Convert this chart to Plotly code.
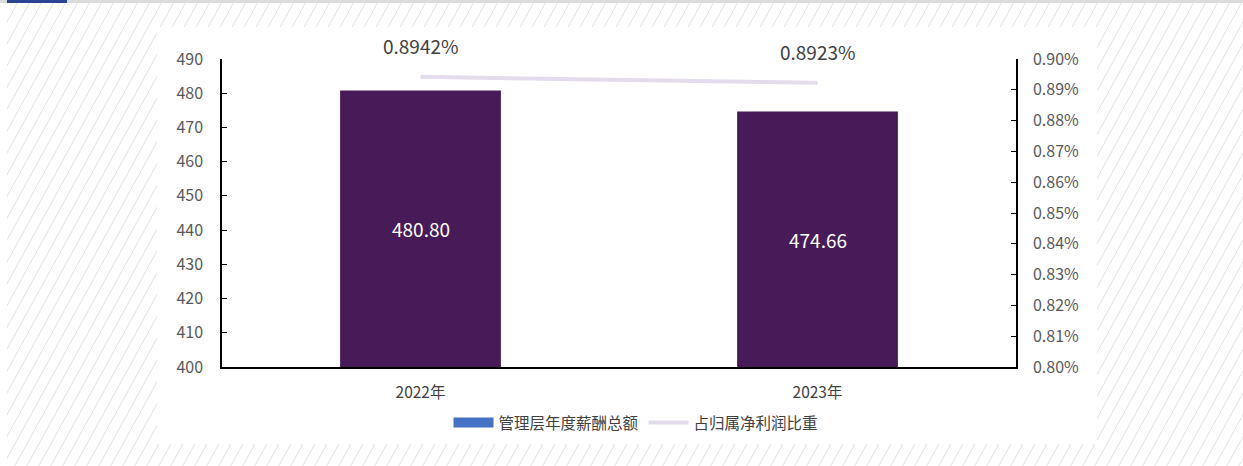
import plotly.graph_objects as go

# data
years = ["2022年", "2023年"]
pay_total = [480.80, 474.66]          # 管理层年度薪酬总额
profit_share = [0.008942, 0.008923]   # 占归属净利润比重
bar_name = "管理层年度薪酬总额"
line_name = "占归属净利润比重"
y_min, y_max = 400, 490

W, H = 1243, 466
L, R, T, B = 222, 1016, 59, 367   # plot area in pixels

FONT = "Noto Sans CJK SC, Noto Sans, sans-serif"


def px(x):
    return (x - L) / (R - L)


def py(y):
    return (B - y) / (B - T)


fig = go.Figure()

# legend-only swatch (legend colour differs from the bars in the source)
fig.add_trace(go.Scatter(
    x=[None], y=[None], mode="lines", name=bar_name,
    line=dict(color="#4472c4", width=10)))

fig.add_trace(go.Bar(
    x=years, y=pay_total, name=bar_name, showlegend=False,
    marker=dict(color="#461b57", line_width=0),
    width=0.405))

fig.add_trace(go.Scatter(
    x=years, y=profit_share, name=line_name, yaxis="y2",
    mode="lines", line=dict(color="#e4dcec", width=4)))

# value labels centred in the visible part of each bar
for yr, v in zip(years, pay_total):
    fig.add_annotation(x=yr, y=(y_min + v) / 2, showarrow=False,
                       text=f"{v:.2f}",
                       font=dict(size=19, color="white", family=FONT))

# percentage labels above the line
for yr, v in zip(years, profit_share):
    fig.add_annotation(x=yr, y=v, yref="y2", yshift=31, showarrow=False,
                       text=f"{v*100:.4f}%",
                       font=dict(size=19, color="#404040", family=FONT))

# hatched page background with a white card in the middle
shapes = []
slope = 0.55
for x0 in range(-300, W + 20, 12):
    shapes.append(dict(type="line", xref="paper", yref="paper", layer="below",
                       x0=px(x0), y0=py(H + 5), x1=px(x0 + slope * (H + 5)), y1=py(0),
                       line=dict(color="#e2e2e2", width=1)))
shapes.append(dict(type="rect", xref="paper", yref="paper", layer="below",
                   x0=px(0), x1=px(7), y0=py(0), y1=py(H),
                   fillcolor="white", line_width=0))
shapes.append(dict(type="rect", xref="paper", yref="paper", layer="below",
                   x0=px(157), x1=px(1097), y0=py(27), y1=py(444),
                   fillcolor="white", line_width=0))
shapes.append(dict(type="rect", xref="paper", yref="paper", layer="below",
                   x0=px(0), x1=px(W), y0=py(0), y1=py(3),
                   fillcolor="#dcdcdc", line_width=0))
shapes.append(dict(type="rect", xref="paper", yref="paper", layer="below",
                   x0=px(7), x1=px(67), y0=py(0), y1=py(3),
                   fillcolor="#2b4590", line_width=0))

fig.update_layout(
    width=W, height=H,
    margin=dict(l=L, r=W - R, t=T, b=H - B, pad=0),
    paper_bgcolor="white", plot_bgcolor="rgba(0,0,0,0)",
    font=dict(family=FONT, color="#595959", size=16),
    bargap=0.595,
    shapes=shapes,
    showlegend=True,
    legend=dict(orientation="h", x=px(636), xanchor="center", y=py(423), yanchor="middle",
                font=dict(size=15.5, color="#404040"), bgcolor="rgba(0,0,0,0)",
                itemwidth=40, tracegroupgap=0),
    xaxis=dict(type="category", categoryorder="array", categoryarray=years,
               showline=True, linecolor="black", linewidth=1.5, ticks="",
               showgrid=False, ticklabelstandoff=11,
               tickfont=dict(size=15.5, color="#404040")),
    yaxis=dict(range=[y_min, y_max], dtick=10, showline=True, linecolor="black",
               linewidth=1.5, ticks="inside", ticklen=5, tickcolor="black",
               showgrid=False, zeroline=False, ticklabelstandoff=14),
    yaxis2=dict(range=[0.008, 0.009], dtick=0.0001, tickformat=".2%",
                overlaying="y", side="right", showline=True, linecolor="black",
                linewidth=1.5, ticks="inside", ticklen=5, tickcolor="black",
                showgrid=False, zeroline=False, ticklabelstandoff=12),
)

fig.write_html("out.html", config={"displayModeBar": False},
               post_script="document.body.style.margin='0';")
